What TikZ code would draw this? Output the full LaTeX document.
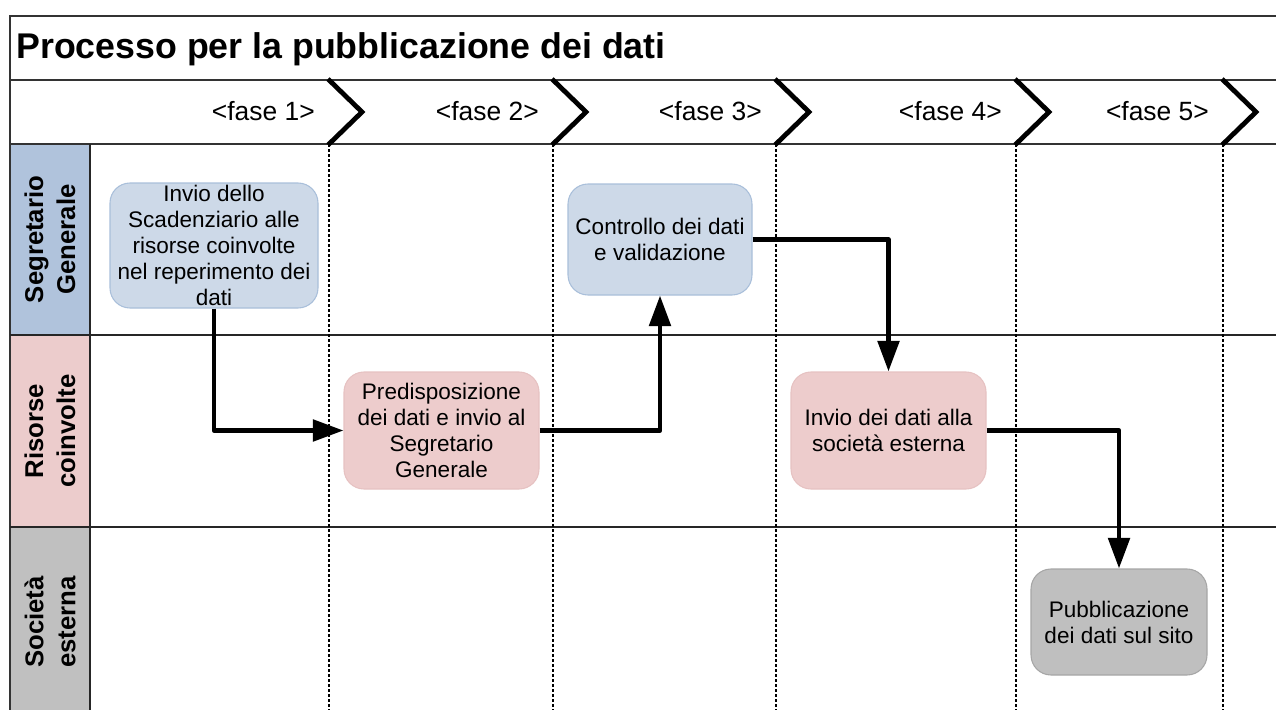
\documentclass[tikz,border=0pt]{standalone}
\usepackage{fontspec}
\setmainfont{Liberation Sans}
\usetikzlibrary{arrows.meta}
\newdimen\pxu \pxu=0.75pt
\definecolor{laneblue}{HTML}{B0C3DC}
\definecolor{lanepink}{HTML}{ECCCCC}
\definecolor{lanegrey}{HTML}{C0C0C0}
\definecolor{boxblue}{HTML}{CDD9E8}
\definecolor{boxblueline}{HTML}{A9BFDA}
\definecolor{boxpink}{HTML}{EDCCCC}
\definecolor{boxpinkline}{HTML}{E6C2C2}
\definecolor{boxgrey}{HTML}{BFBFBF}
\definecolor{boxgreyline}{HTML}{A6A6A6}
\definecolor{framecol}{HTML}{333333}
\begin{document}
\begin{tikzpicture}[x=0.75pt,y=-0.75pt,
  frame/.style={draw=framecol,line width=1.5pt},
  sep/.style={draw=black!85,line width=1.1pt},
  chev/.style={line width=3.6pt,line join=miter},
  dotline/.style={line width=1.6pt,dash pattern=on 2.25pt off 1.5pt},
  titletext/.style={font=\bfseries\fontsize{26.8}{30}\selectfont,inner sep=0pt},
  phase/.style={font=\fontsize{19.8}{24}\selectfont,inner sep=0pt},
  lanelabel/.style={rotate=90,align=center,inner sep=0pt,font=\bfseries\fontsize{19.3}{24}\selectfont},
  boxtext/.style={align=center,inner sep=0pt,font=\fontsize{16.9}{19.5}\selectfont},
  procbox/.style={rounded corners=15pt,line width=0.8pt,boxtext},
  bluebox/.style={procbox,fill=boxblue,draw=boxblueline},
  pinkbox/.style={procbox,fill=boxpink,draw=boxpinkline},
  greybox/.style={procbox,fill=boxgrey,draw=boxgreyline},
  flow/.style={line width=3.4pt,line join=round,-{Triangle[length=23pt,width=16pt]}}
]
\useasboundingbox (0,0) rectangle (1276,710);
% lane header fills
\fill[laneblue] (10,144) rectangle (90,335);
\fill[lanepink] (10,335) rectangle (90,527);
\fill[lanegrey] (10,527) rectangle (90,710);
% frame lines
\draw[frame] (1276,16) -- (10,16) -- (10,710);
\draw[frame] (10,80) -- (1276,80);
\draw[frame] (10,144) -- (1276,144);
\draw[sep] (10,335) -- (1276,335);
\draw[sep] (10,527) -- (1276,527);
\draw[sep] (90,144) -- (90,710);
% title
\node[titletext,anchor=base west] (title) at (16,59) {Processo per la pubblicazione dei dati};
% phases
\foreach \x/\n in {328/1,552/2,775/3,1015/4,1222/5}{
  \draw[dotline] (\x+1,144) -- (\x+1,710);
  \draw[chev] (\x,79) -- (\x+34,112) -- (\x,145);
  \node[phase,anchor=base east] (fase\n) at (\x-13,120) {<fase \n>};
}
% lane labels
\node[lanelabel] (lsg) at (50,239.5) {Segretario\\Generale};
\node[lanelabel] (lrc) at (50,431) {Risorse\\coinvolte};
\node[lanelabel] (lse) at (50,622) {Società\\esterna};
% process boxes
\node[bluebox,minimum width=208\pxu,minimum height=125\pxu] (b1) at (214,245.5) {};
\node[boxtext] (b1t) at (b1.center) {Invio dello\\Scadenziario alle\\risorse coinvolte\\nel reperimento dei\\dati};
\node[pinkbox,minimum width=195\pxu,minimum height=117\pxu] (b2) at (441.5,430.5) {Predisposizione\\dei dati e invio al\\Segretario\\Generale};
\node[bluebox,minimum width=184\pxu,minimum height=111\pxu] (b3) at (660,239.5) {Controllo dei dati\\e validazione};
\node[pinkbox,minimum width=195\pxu,minimum height=117\pxu] (b4) at (888.5,430.5) {Invio dei dati alla\\società esterna};
\node[greybox,minimum width=176\pxu,minimum height=106\pxu] (b5) at (1119,622) {Pubblicazione\\dei dati sul sito};
% connectors
\draw[flow] (b1.south) |- (b2.west);
\draw[flow] (b2.east) -| (b3.south);
\draw[flow] (b3.east) -| (b4.north);
\draw[flow] (b4.east) -| (b5.north);
\end{tikzpicture}
\end{document}
